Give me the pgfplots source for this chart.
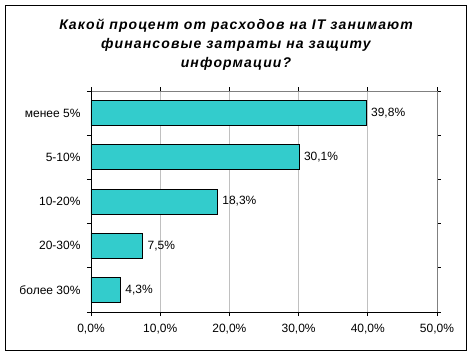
\documentclass[border=0pt]{standalone}
\usepackage{fontspec}
\setmainfont{Liberation Sans}
\usepackage{pgfplots}
\pgfplotsset{compat=1.18}
\definecolor{barcyan}{HTML}{33CCCC}
\definecolor{gridgray}{HTML}{C0C0C0}
\definecolor{boxgray}{HTML}{808080}
\begin{document}
\begin{tikzpicture}[x=1pt,y=1pt]
\useasboundingbox (-91,-44) rectangle (382,312);
\draw[black, line width=1pt] (-85.5,-38.5) rectangle (375.5,306.5);
\node[align=center, font=\fontsize{14}{19}\selectfont\bfseries\itshape\addfontfeatures{LetterSpace=8}] at (145,267)
  {Какой процент от расходов на IT занимают\\финансовые затраты на защиту\\информации?};
\begin{axis}[
  at={(0,0)}, anchor=south west,
  width=346pt, height=221pt, scale only axis,
  xmin=0, xmax=50, ymin=-0.5, ymax=4.5,
  axis line style={draw=none},
  xtick={0,10,20,30,40,50},
  xticklabels={{0,0\%},{10,0\%},{20,0\%},{30,0\%},{40,0\%},{50,0\%}},
  ytick={0,1,2,3,4},
  yticklabels={более 30\%, 20-30\%, 10-20\%, 5-10\%, менее 5\%},
  minor ytick={-0.5,0.5,1.5,2.5,3.5,4.5},
  major y tick style={draw=none},
  tick align=outside,
  major tick length=4pt, minor tick length=4pt,
  tick style={black, line width=0.8pt},
  xmajorgrids, grid style={gridgray, line width=0.8pt},
  tick label style={font=\fontsize{12}{14}\selectfont},
  xticklabel style={yshift=-5pt},
  yticklabel style={xshift=-3pt},
  /pgf/number format/assume math mode=true,
  nodes near coords={\pgfmathprintnumber[fixed, fixed zerofill, precision=1, use comma, assume math mode=true]{\pgfplotspointmeta}\%},
  point meta=x,
  every node near coord/.append style={font=\fontsize{12}{14}\selectfont, anchor=west, xshift=1pt},
  clip=false,
]
\addplot[xbar, bar width=25pt, fill=barcyan, draw=black, line width=0.8pt] coordinates {
  (4.3,0) (7.5,1) (18.3,2) (30.1,3) (39.8,4)
};
\draw[boxgray, line width=0.8pt] (rel axis cs:0,1) -- (rel axis cs:1,1) -- (rel axis cs:1,0);
\draw[black, line width=0.8pt] (rel axis cs:0,1) -- (rel axis cs:0,0) -- (rel axis cs:1,0);
\end{axis}
\end{tikzpicture}
\end{document}
